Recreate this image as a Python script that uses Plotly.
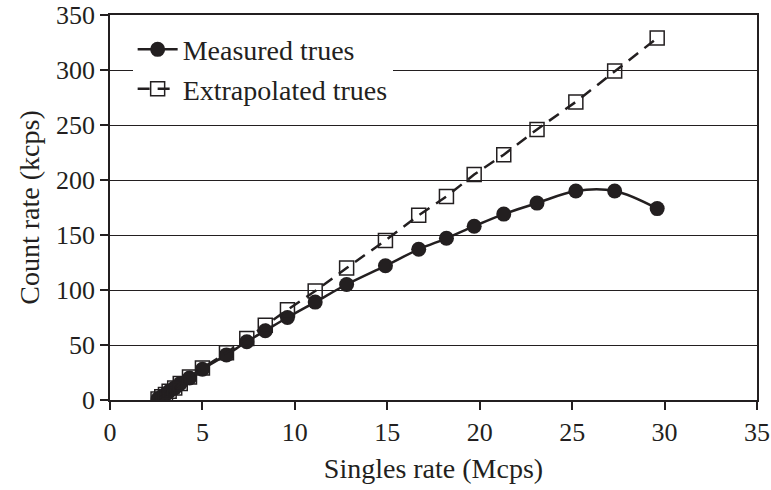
import plotly.graph_objects as go

singles = [2.6, 2.8, 3.0, 3.2, 3.5, 3.8, 4.3, 5.0, 6.3, 7.4, 8.4, 9.6, 11.1,
           12.8, 14.9, 16.7, 18.2, 19.7, 21.3, 23.1, 25.2, 27.3, 29.6]
measured = [1, 3, 5, 8, 11, 15, 20, 28, 41, 53, 63, 75, 89,
            105, 122, 137, 147, 158, 169, 179, 190, 190, 174]
extrapolated = [1, 3, 5, 8, 11, 15, 21, 29, 43, 56, 68, 82, 99,
                120, 145, 168, 185, 205, 223, 246, 271, 299, 329]

x_ticks = [0, 5, 10, 15, 20, 25, 30, 35]
y_ticks = [0, 50, 100, 150, 200, 250, 300, 350]

FONT = "Liberation Serif"
INK = "#231f20"

fig = go.Figure()
fig.add_trace(go.Scatter(
    x=singles, y=measured, name="Measured trues", mode="lines+markers",
    line=dict(color=INK, width=2.5, shape="spline", smoothing=1.0),
    marker=dict(symbol="circle", size=15, color=INK),
))
fig.add_trace(go.Scatter(
    x=singles, y=extrapolated, name="Extrapolated trues", mode="lines+markers",
    line=dict(color=INK, width=2.5, dash="12px,8px"),
    marker=dict(symbol="square-open", size=14, color=INK, line=dict(width=1.5)),
))

fig.update_layout(
    width=771, height=490,
    margin=dict(l=110, r=14, t=15, b=90),
    paper_bgcolor="white", plot_bgcolor="white",
    font=dict(family=FONT, size=26, color=INK),
    showlegend=True,
    legend=dict(x=0.035, y=0.975, xanchor="left", yanchor="top",
                bgcolor="white", borderwidth=0,
                font=dict(family=FONT, size=28, color=INK),
                itemwidth=40),
)
fig.update_xaxes(
    range=[0, 35], tickvals=x_ticks, ticktext=[str(v) for v in x_ticks],
    showgrid=False, zeroline=False, automargin=False,
    showline=True, linecolor=INK, linewidth=1.5, mirror=True,
    ticks="outside", ticklen=8, tickwidth=1.5, tickcolor=INK,
    ticklabeloverflow="allow",
    tickfont=dict(family=FONT, size=26, color=INK),
    title=dict(text="Singles rate (Mcps)", standoff=12,
               font=dict(family=FONT, size=28, color=INK)),
)
fig.update_yaxes(
    range=[0, 350], tickvals=y_ticks, ticktext=[str(v) for v in y_ticks],
    showgrid=True, gridcolor=INK, gridwidth=1.2, zeroline=False, automargin=False,
    showline=True, linecolor=INK, linewidth=1.5, mirror=True,
    ticks="outside", ticklen=8, tickwidth=1.5, tickcolor=INK,
    ticklabeloverflow="allow",
    tickfont=dict(family=FONT, size=26, color=INK),
    title=dict(text="Count rate (kcps)", standoff=8,
               font=dict(family=FONT, size=28, color=INK)),
)

fig.write_html("out.html")
